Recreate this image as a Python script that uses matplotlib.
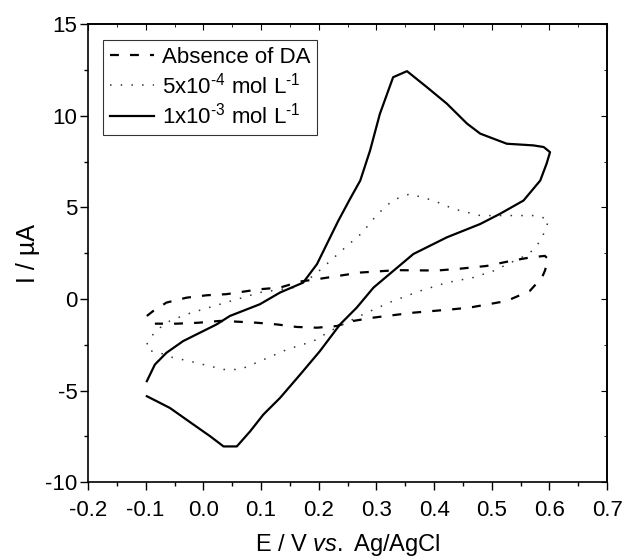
import matplotlib.pyplot as plt
from matplotlib.ticker import MultipleLocator

plt.rcParams['font.family'] = ['Liberation Sans', 'DejaVu Sans']
plt.rcParams['mathtext.fontset'] = 'custom'
plt.rcParams['mathtext.rm'] = 'Liberation Sans'
plt.rcParams['mathtext.it'] = 'Liberation Sans:italic'
plt.rcParams['mathtext.default'] = 'regular'
plt.rcParams['axes.unicode_minus'] = False

# absence of DA (dashed)
e_blank = [-0.098, -0.087, -0.064, -0.029, 0.006, 0.040, 0.098, 0.133, 0.168, 0.202, 0.243, 0.272, 0.335,
           0.405, 0.445, 0.491, 0.537, 0.566, 0.592, 0.598, 0.592, 0.587, 0.566, 0.526, 0.462, 0.434,
           0.364, 0.295, 0.260, 0.231, 0.197, 0.162, 0.127, 0.093, 0.058, 0.029, -0.009, -0.046, -0.084]
i_blank = [-0.93, -0.66, -0.20, 0.07, 0.20, 0.26, 0.53, 0.62, 0.95, 1.10, 1.30, 1.44, 1.57,
           1.55, 1.65, 1.80, 2.10, 2.26, 2.35, 2.17, 1.53, 1.17, 0.44, -0.11, -0.47, -0.56,
           -0.75, -1.02, -1.20, -1.48, -1.57, -1.53, -1.39, -1.30, -1.24, -1.20, -1.30, -1.35, -1.35]

# 5x10-4 mol/L (dotted)
e_low = [-0.098, -0.090, -0.075, -0.058, -0.029, 0.000, 0.029, 0.098, 0.156, 0.191, 0.217, 0.246, 0.275,
         0.301, 0.329, 0.358, 0.399, 0.434, 0.480, 0.549, 0.575, 0.598, 0.595, 0.587, 0.578, 0.564,
         0.503, 0.468, 0.422, 0.376, 0.329, 0.283, 0.254, 0.220, 0.191, 0.145, 0.098, 0.064, 0.035,
         0.000, -0.023, -0.052, -0.084, -0.098]
i_low = [-2.48, -2.03, -1.57, -1.20, -0.84, -0.56, -0.29, 0.35, 0.62, 1.26, 1.99, 2.81, 3.60,
         4.60, 5.40, 5.73, 5.37, 4.91, 4.55, 4.55, 4.55, 4.36, 3.90, 3.36, 2.90, 2.45,
         1.53, 1.17, 0.89, 0.44, -0.11, -0.75, -1.20, -1.75, -2.30, -2.76, -3.40, -3.85, -3.85,
         -3.58, -3.40, -3.21, -2.85, -2.85]

# 1x10-3 mol/L (solid)
e_high = [-0.098, -0.084, -0.064, -0.035, 0.000, 0.023, 0.046, 0.098, 0.133, 0.173, 0.197, 0.214, 0.234,
          0.255, 0.272, 0.289, 0.306, 0.329, 0.353, 0.387, 0.422, 0.457, 0.480, 0.526, 0.572, 0.590,
          0.601, 0.595, 0.584, 0.555, 0.514, 0.480, 0.422, 0.364, 0.295, 0.266, 0.237, 0.202, 0.168,
          0.133, 0.104, 0.081, 0.058, 0.035, 0.012, -0.017, -0.058, -0.081, -0.098]
i_high = [-4.49, -3.58, -2.94, -2.30, -1.75, -1.39, -0.93, -0.29, 0.35, 0.89, 1.90, 2.99, 4.27,
          5.50, 6.46, 8.10, 10.1, 12.1, 12.43, 11.57, 10.66, 9.57, 9.02, 8.47, 8.38, 8.29,
          8.01, 7.38, 6.46, 5.37, 4.64, 4.09, 3.36, 2.45, 0.62, -0.47, -1.39, -2.85, -4.12,
          -5.40, -6.31, -7.23, -8.05, -8.05, -7.50, -6.86, -5.95, -5.58, -5.31]

fig = plt.figure(figsize=(6.24, 5.6), dpi=100)
ax = fig.add_axes([0.141, 0.139, 0.832, 0.818])

ax.plot(e_blank, i_blank, color='black', lw=1.6, linestyle=(0, (4, 5)), label='Absence of DA')
ax.plot(e_low, i_low, color='#333333', lw=1.1, linestyle=(0, (1, 6)), label='5x10$^{\\text{-4}}$ mol L$^{\\text{-1}}$')
ax.plot(e_high, i_high, color='black', lw=1.6, label='1x10$^{\\text{-3}}$ mol L$^{\\text{-1}}$')

ax.set_xlim(-0.2, 0.7)
ax.set_ylim(-10, 15)
ax.xaxis.set_major_locator(MultipleLocator(0.1))
ax.xaxis.set_minor_locator(MultipleLocator(0.05))
ax.yaxis.set_major_locator(MultipleLocator(5))
ax.yaxis.set_minor_locator(MultipleLocator(2.5))
ax.xaxis.set_major_formatter(lambda v, p: '%.1f' % v)
ax.tick_params(which='major', direction='out', length=6, width=1, labelsize=16)
ax.tick_params(axis='y', which='major', pad=1.5)
ax.tick_params(axis='x', which='major', pad=7)
ax.tick_params(which='minor', direction='out', length=3, width=1)

sx = ax.secondary_xaxis('top')
sx.xaxis.set_major_locator(MultipleLocator(0.1))
sx.xaxis.set_minor_locator(MultipleLocator(0.05))
sx.tick_params(which='major', direction='in', length=4, labeltop=False)
sx.tick_params(which='minor', direction='in', length=2)
sy = ax.secondary_yaxis('right')
sy.yaxis.set_major_locator(MultipleLocator(5))
sy.yaxis.set_minor_locator(MultipleLocator(2.5))
sy.tick_params(which='major', direction='in', length=4, labelright=False)
sy.tick_params(which='minor', direction='in', length=2)
sx.spines['top'].set_linewidth(1.2)
sy.spines['right'].set_linewidth(1.2)

for s in ax.spines.values():
    s.set_linewidth(1.2)

ax.set_xlabel('E / V $\\it{vs.}$ Ag/AgCl', fontsize=17, labelpad=8)
ax.set_ylabel('I / µA', fontsize=18, labelpad=4)

leg = ax.legend(loc='upper left', bbox_to_anchor=(0.029, 0.965), fontsize=16, frameon=True,
                fancybox=False, borderpad=0.3, labelspacing=0.2, handlelength=2.0, handletextpad=0.35,
                borderaxespad=0)
leg.get_frame().set_edgecolor('black')
leg.get_frame().set_linewidth(0.8)

fig.savefig('out.png', dpi=100)
